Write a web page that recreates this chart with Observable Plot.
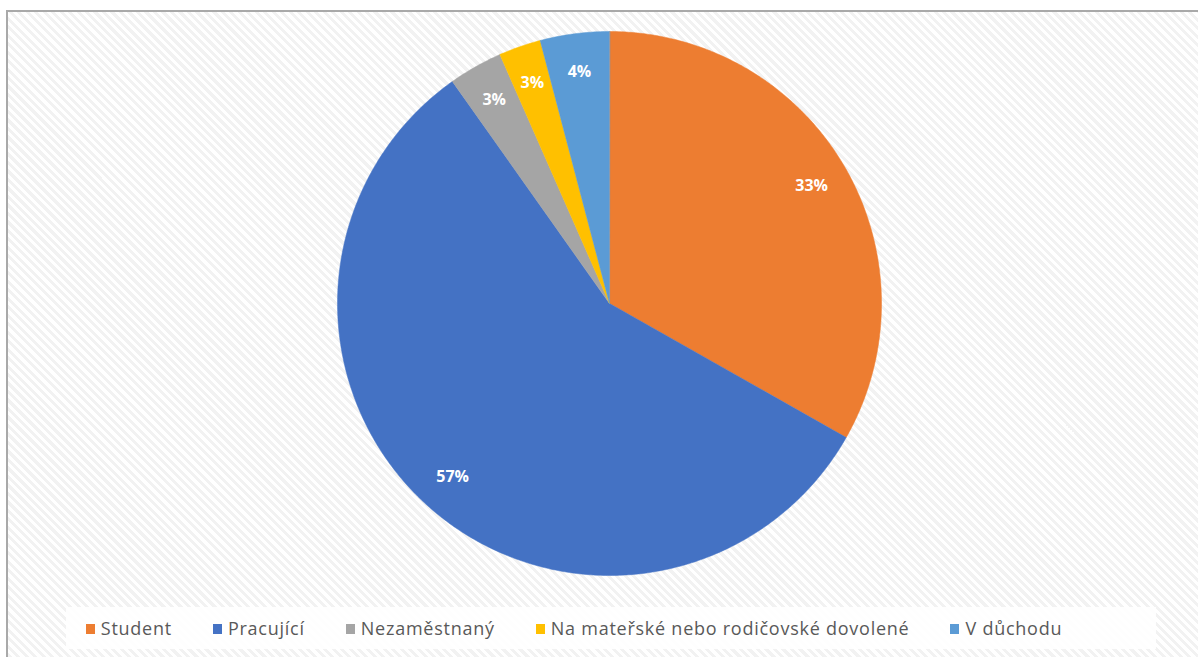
<!DOCTYPE html>
<html>
<head>
<meta charset="utf-8">
<script src="https://cdn.jsdelivr.net/npm/d3@7"></script>
<script src="https://cdn.jsdelivr.net/npm/@observablehq/plot@0.6"></script>
<style>
  html, body { margin: 0; padding: 0; background: #ffffff; }
  #page { position: relative; width: 1198px; height: 657px; overflow: hidden; background: #ffffff; }
  #frame {
    position: absolute; left: 6px; top: 10px; right: -4px; bottom: -4px;
    border-left: 2px solid #a9a9a9; border-top: 2px solid #a9a9a9;
    background: repeating-linear-gradient(45deg, #ffffff 0px, #ffffff 3px, #f2f2f2 3px, #f2f2f2 6px);
  }
  #chart { position: absolute; left: 0; top: 0; }
  #legend {
    position: absolute; left: 66px; top: 607px; width: 1016px; height: 42px; padding-right: 74px;
    background: rgba(255,255,255,0.88);
    display: flex; justify-content: center; align-items: center; gap: 41px;
    font-family: "Open Sans", sans-serif; font-size: 18px; letter-spacing: 0.75px; color: #595959;
  }
  .item { display: flex; align-items: center; white-space: nowrap; }
  .sw { width: 9px; height: 10px; margin-right: 6px; margin-top: 2px; }
</style>
</head>
<body>
<div id="page">
  <div id="frame"></div>
  <div id="chart"></div>
  <div id="legend"></div>
</div>
<script>
const categories = ["Student", "Pracující", "Nezaměstnaný", "Na mateřské nebo rodičovské dovolené", "V důchodu"];
const values = [33.2, 57.0, 3.2, 2.5, 4.1];
const labels = ["33%", "57%", "3%", "3%", "4%"];
const colors = ["#ed7d31", "#4472c4", "#a5a5a5", "#ffc000", "#5b9bd5"];

const W = 1198, H = 600;
const cx = 609, cy = 303, R = 272;

const arcs = d3.pie().sort(null)(values);

const slicePts = [];
arcs.forEach((a, i) => {
  slicePts.push({k: categories[i], x: 0, y: 0});
  const n = Math.max(4, Math.ceil((a.endAngle - a.startAngle) / (Math.PI / 360)));
  for (let j = 0; j <= n; j++) {
    const t = a.startAngle + (a.endAngle - a.startAngle) * j / n;
    slicePts.push({k: categories[i], x: R * Math.sin(t), y: R * Math.cos(t)});
  }
});

const labelPts = arcs.map((a, i) => {
  const m = (a.startAngle + a.endAngle) / 2;
  const f = 0.86;
  return {label: labels[i], x: R * f * Math.sin(m), y: R * f * Math.cos(m)};
});

const marks = categories.map((c, i) =>
  Plot.line(slicePts.filter(d => d.k === c), {x: "x", y: "y", fill: colors[i], stroke: colors[i], strokeWidth: 0.5, curve: "linear-closed"})
);
marks.push(Plot.text(labelPts, {x: "x", y: "y", text: "label", fill: "white", fontSize: 16, fontWeight: "bold", fontFamily: "Open Sans, sans-serif"}));

const plot = Plot.plot({
  width: W, height: H,
  margin: 0,
  x: {domain: [-cx, W - cx], axis: null},
  y: {domain: [-(H - cy), cy], axis: null},
  style: {background: "transparent", overflow: "visible"},
  marks
});
document.getElementById("chart").appendChild(plot);

const legend = document.getElementById("legend");
categories.forEach((c, i) => {
  const it = document.createElement("div");
  it.className = "item";
  const sw = document.createElement("span");
  sw.className = "sw";
  sw.style.background = colors[i];
  const tx = document.createElement("span");
  tx.textContent = c;
  it.appendChild(sw); it.appendChild(tx);
  legend.appendChild(it);
});
</script>
</body>
</html>
